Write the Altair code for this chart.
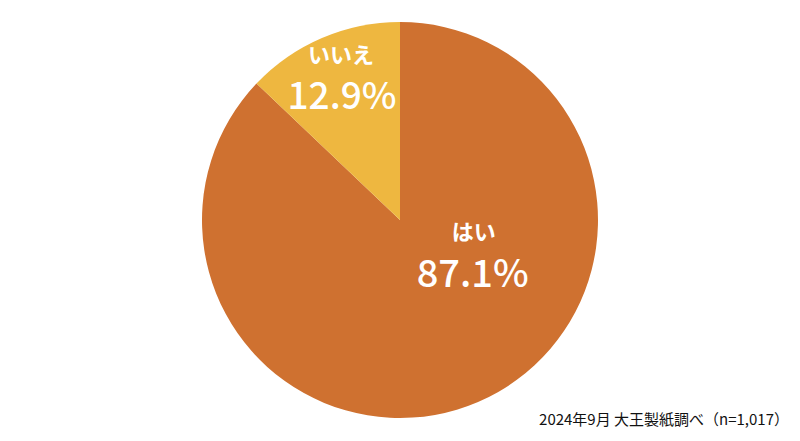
import altair as alt
import pandas as pd

labels = ["はい", "いいえ"]
values = [87.1, 12.9]
pct_labels = ["87.1%", "12.9%"]
order = [0, 1]
colors = ["#CF7130", "#EEB740"]
note = "2024年9月 大王製紙調べ（n=1,017）"

df = pd.DataFrame({"label": labels, "value": values, "pct": pct_labels, "order": order})

FONT = "Noto Sans CJK JP"

base = alt.Chart(df).encode(
    theta=alt.Theta("value:Q", stack=True),
    order=alt.Order("order:Q", sort="ascending"),
)

arc = base.mark_arc(outerRadius=198).encode(
    color=alt.Color("label:N", scale=alt.Scale(domain=labels, range=colors), legend=None)
)


def lbl(field, cat, radius, dx, dy, size, weight):
    return base.mark_text(
        radius=radius, dx=dx, dy=dy, fontSize=size, fontWeight=weight,
        color="white", font=FONT,
        align="center", baseline="middle",
    ).encode(
        text=alt.condition(f"datum.label == '{cat}'", alt.Text(f"{field}:N"), alt.value(""))
    )


yes_name = lbl("label", "はい", 60, 50, -42, 22, "bold")
yes_pct = lbl("pct", "はい", 60, 49, 1, 38, 500)
no_name = lbl("label", "いいえ", 170, 8, -8, 22, "bold")
no_pct = lbl("pct", "いいえ", 137, -4, 4, 37, 500)

note_text = alt.Chart(pd.DataFrame({"note": [note]})).mark_text(
    align="right", baseline="middle", fontSize=15, font=FONT, color="#111111"
).encode(x=alt.value(781), y=alt.value(412), text="note:N")

chart = alt.layer(arc, yes_name, yes_pct, no_name, no_pct, note_text).properties(
    width=784, height=424, autosize=alt.AutoSizeParams(type="none"), padding=0
).configure_view(stroke=None)

chart.save("out.html", embed_options={"renderer": "svg", "actions": False})
